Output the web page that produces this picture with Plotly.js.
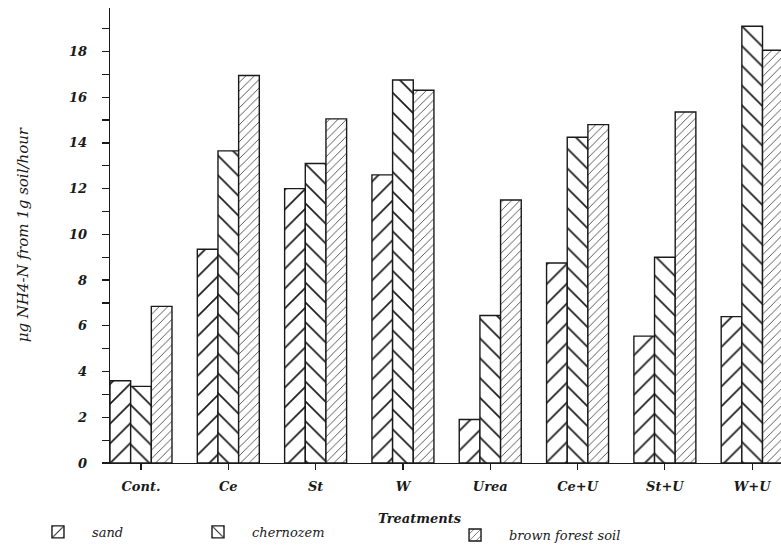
<!DOCTYPE html>
<html>
<head>
<meta charset="utf-8">
<script src="https://cdn.plot.ly/plotly-3.0.1.min.js"></script>
<style>html,body{margin:0;padding:0;background:#fff;}#chart{width:781px;height:545px;}</style>
</head>
<body>
<div id="chart"></div>
<script>
const treatments = ["Cont.", "Ce", "St", "W", "Urea", "Ce+U", "St+U", "W+U"];
const sand = [3.6, 9.35, 12.0, 12.6, 1.9, 8.75, 5.55, 6.4];
const chernozem = [3.35, 13.65, 13.1, 16.75, 6.45, 14.25, 9.0, 19.1];
const brownForestSoil = [6.85, 16.95, 15.05, 16.3, 11.5, 14.8, 15.35, 18.05];
const seriesNames = ["sand", "chernozem", "brown forest soil"];
const yTickVals = [0, 2, 4, 6, 8, 10, 12, 14, 16, 18];

const ink = "#1a1a1a";
const tickFont = {family: "DejaVu Serif", size: 13, color: ink, style: "italic", weight: "bold"};
function barTrace(vals, name, shape, size, legendId) {
  return {
    type: "bar", x: treatments, y: vals, name: name, legend: legendId, showlegend: true,
    marker: {
      color: "#fff",
      line: {color: ink, width: 1.4},
      pattern: {shape: shape, size: size, solidity: 0.12, fgcolor: ink, bgcolor: "#fff"}
    }
  };
}
const data = [
  barTrace(sand, seriesNames[0], "/", 14, "legend"),
  barTrace(chernozem, seriesNames[1], "\\", 14, "legend2"),
  barTrace(brownForestSoil, seriesNames[2], "/", 6, "legend3")
];
const legBase = {orientation: "h", xref: "container", yref: "container", yanchor: "middle", xanchor: "left",
  itemwidth: 58, borderwidth: 0,
  font: {family: "DejaVu Serif", size: 13, color: ink, style: "italic"}, bgcolor: "rgba(0,0,0,0)"};
const layout = {
  width: 781, height: 545,
  showlegend: true,
  margin: {l: 110, r: 0, t: 8, b: 82, autoexpand: false},
  paper_bgcolor: "#fff", plot_bgcolor: "#fff",
  barmode: "group", bargap: 0.29, bargroupgap: 0,
  xaxis: {
    type: "category", range: [-0.355, 7.33],
    showline: true, linecolor: ink, linewidth: 1.4,
    ticks: "outside", ticklen: 6, tickwidth: 1.2, tickcolor: ink,
    tickfont: tickFont, ticklabelstandoff: 5, showgrid: false, zeroline: false
  },
  yaxis: {
    range: [0, 19.9], tickvals: yTickVals,
    showline: true, linecolor: ink, linewidth: 1.4,
    ticks: "outside", ticklen: 7, tickwidth: 1.2, tickcolor: ink,
    minor: {dtick: 1, ticks: "outside", ticklen: 7, tickwidth: 1.2, tickcolor: ink, showgrid: false},
    tickfont: tickFont, ticklabelstandoff: 12, showgrid: false, zeroline: false
  },
  legend: Object.assign({}, legBase, {x: 0.0307, y: 0.0239}),
  legend2: Object.assign({}, legBase, {x: 0.2356, y: 0.0239}),
  legend3: Object.assign({}, legBase, {x: 0.5647, y: 0.0183}),
  annotations: [
    {text: "μg NH4-N from 1g soil/hour", xref: "paper", yref: "paper",
     x: -0.13, y: 0.502, xanchor: "center", yanchor: "middle",
     textangle: -90, showarrow: false, font: {family: "DejaVu Serif", size: 15, color: ink, style: "italic"}},
    {text: "Treatments", xref: "paper", yref: "paper", x: 0.462, y: -0.121,
     xanchor: "center", yanchor: "middle",
     showarrow: false, font: {family: "DejaVu Serif", size: 13, color: ink, style: "italic", weight: "bold"}}
  ]
};
Plotly.newPlot("chart", data, layout, {displayModeBar: false, staticPlot: true});
</script>
</body>
</html>
